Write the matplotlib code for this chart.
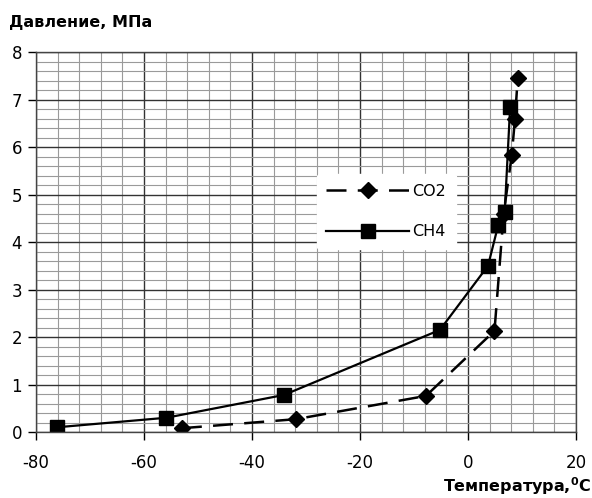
import numpy as np
import matplotlib
matplotlib.use("Agg")
import matplotlib.pyplot as plt
from matplotlib.ticker import MultipleLocator

plt.rcParams["axes.unicode_minus"] = False

# CO2 hydrate equilibrium curve
co2_t = [-53.0, -31.9, -7.8, 4.9, 6.6, 8.1, 8.7, 9.2]
co2_p = [0.08, 0.27, 0.76, 2.13, 4.6, 5.83, 6.6, 7.45]

# CH4 hydrate equilibrium curve
ch4_t = [-76.1, -55.9, -34.1, -5.2, 3.7, 5.6, 6.8, 7.8]
ch4_p = [0.1, 0.3, 0.78, 2.15, 3.5, 4.36, 4.64, 6.85]

x_ticks = [-80, -60, -40, -20, 0, 20]
y_ticks = [0, 1, 2, 3, 4, 5, 6, 7, 8]

fig = plt.figure(figsize=(5.92, 4.98), dpi=100)
ax = fig.add_axes([0.061, 0.1325, 0.912, 0.763])

ax.plot(co2_t, co2_p, color="black", lw=1.8, dashes=(8, 4.5),
        marker="D", markersize=8.5, label="CO2")
ax.plot(ch4_t, ch4_p, color="black", lw=1.6,
        marker="s", markersize=10, label="CH4")

ax.set_xlim(-80, 20)
ax.set_ylim(0, 8)
ax.set_xticks(x_ticks)
ax.set_yticks(y_ticks)
ax.xaxis.set_minor_locator(MultipleLocator(4))
ax.yaxis.set_minor_locator(MultipleLocator(0.2))
ax.grid(which="major", color="#333333", lw=1.0)
ax.grid(which="minor", color="#9a9a9a", lw=0.8)
ax.set_axisbelow(True)
ax.tick_params(which="major", length=6, width=1.0, labelsize=12, pad=10)
ax.tick_params(axis="y", pad=4)
ax.tick_params(which="minor", length=0)
for s in ax.spines.values():
    s.set_color("#444444")
    s.set_linewidth(1.0)

fig.text(0.015, 0.955, "Давление, МПа", fontsize=11.5, fontweight="bold",
         ha="left", va="center")
fig.text(0.998, 0.002, "Температура,$^{\\mathbf{0}}$C", fontsize=11.5,
         fontweight="bold", ha="right", va="bottom")

leg = ax.legend(loc="upper left", bbox_to_anchor=(0.505, 0.7), frameon=True,
                fontsize=11.5, handlelength=5.2, labelspacing=1.6,
                borderpad=0.6, handletextpad=0.2)
leg.get_frame().set_facecolor("white")
leg.get_frame().set_edgecolor("white")
leg.get_frame().set_alpha(1.0)

fig.savefig("out.png", dpi=100)
